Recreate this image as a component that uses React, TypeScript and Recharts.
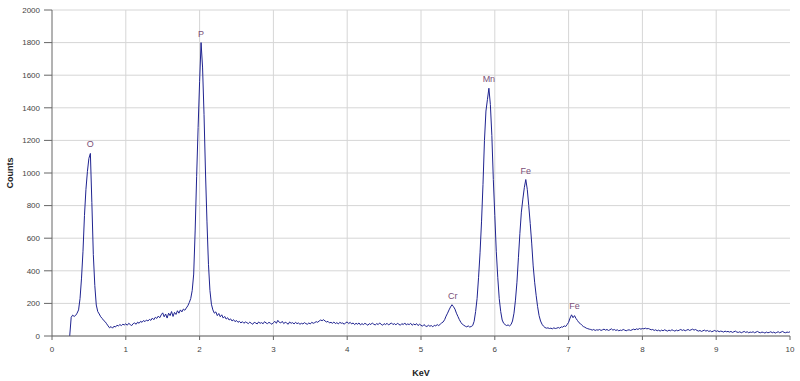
import { CartesianGrid, Line, LineChart, ReferenceDot, XAxis, YAxis } from "recharts";

const FONT = "'Liberation Sans', Arial, sans-serif";

// spectrum channels, 0.02 KeV apart, starting at 0.24 KeV
const START_KEV = 0.24;
const STEP_KEV = 0.02;

const counts = [
  0, 115, 128, 120, 126, 140, 160, 230, 355, 520,
  740, 900, 1010, 1090, 1120, 820, 500, 310, 190, 150,
  135, 118, 108, 95, 88, 75, 62, 50, 58, 48,
  60, 55, 66, 62, 70, 64, 72, 68, 75, 66,
  78, 70, 64, 76, 80, 72, 85, 78, 90, 84,
  95, 88, 98, 92, 102, 96, 110, 100, 115, 108,
  122, 112, 130, 142, 118, 135, 110, 140, 125, 150,
  120, 145, 132, 155, 140, 160, 148, 165, 158, 172,
  185, 205, 230, 280, 380, 650, 980, 1280, 1560, 1800,
  1650, 1360, 1000, 700, 440, 280, 195, 160, 140, 148,
  125, 138, 118, 130, 110, 120, 104, 112, 98, 105,
  92, 100, 88, 95, 84, 90, 80, 88, 78, 86,
  82, 76, 85, 78, 72, 84, 80, 74, 86, 78,
  82, 75, 88, 80, 76, 84, 78, 72, 82, 90,
  78, 96, 84, 80, 90, 76, 84, 80, 72, 86,
  78, 82, 74, 84, 76, 80, 72, 78, 74, 82,
  76, 72, 80, 74, 84, 78, 82, 88, 84, 92,
  98, 94, 100, 92, 86, 90, 80, 84, 78, 86,
  76, 82, 74, 84, 78, 80, 72, 82, 86, 76,
  84, 74, 80, 70, 78, 72, 80, 68, 76, 70,
  78, 72, 66, 76, 70, 80, 72, 68, 76, 70,
  80, 72, 66, 76, 70, 78, 68, 74, 80, 70,
  76, 68, 78, 72, 66, 76, 70, 80, 68, 74,
  70, 78, 66, 74, 68, 76, 64, 72, 66, 60,
  70, 62, 58, 66, 60, 64, 56, 66, 62, 70,
  64, 72, 80, 86, 100, 122, 140, 160, 178, 192,
  180, 165, 140, 120, 100, 84, 72, 66, 60, 56,
  62, 55, 58, 64, 90, 150, 230, 360, 510, 700,
  930, 1200, 1380, 1450, 1520, 1420, 1230, 960, 740, 520,
  360, 230, 150, 98, 78, 70, 64, 68, 62, 70,
  92, 140, 220, 330, 480, 630, 760, 840, 910, 960,
  900, 800, 690, 570, 430, 330, 250, 180, 125, 92,
  72, 60, 52, 48, 50, 46, 48, 44, 50, 46,
  48, 52, 48, 56, 54, 62, 58, 70, 84, 110,
  130, 112, 125, 108, 95, 82, 76, 66, 58, 54,
  48, 45, 42, 40, 36, 40, 34, 38, 36, 40,
  34, 38, 42, 36, 40, 34, 38, 44, 36, 40,
  34, 38, 32, 36, 34, 40, 36, 32, 36, 38,
  34, 38, 42, 38, 44, 40, 46, 42, 46, 44,
  48, 44, 46, 42, 38, 40, 34, 38, 32, 36,
  30, 36, 32, 38, 34, 30, 36, 32, 38, 34,
  30, 36, 32, 36, 40, 34, 38, 32, 36, 40,
  34, 38, 42, 36, 40, 34, 30, 34, 28, 32,
  36, 30, 34, 28, 32, 26, 30, 34, 28, 32,
  26, 30, 28, 24, 30, 26, 28, 24, 28, 22,
  26, 30, 24, 22, 26, 20, 24, 28, 22, 26,
  20, 24, 22, 26, 20, 24, 28, 22, 20, 24,
  22, 18, 24, 20, 22, 26, 20, 24, 18, 22,
  26, 20, 24, 28, 22, 20, 24, 22, 26,
];

const kevTicks = [0, 1, 2, 3, 4, 5, 6, 7, 8, 9, 10];
const kevGrid = [1, 2, 3, 4, 5, 6, 7, 8, 9];
const countTicks = [0, 200, 400, 600, 800, 1000, 1200, 1400, 1600, 1800, 2000];

const peakNames = ["O", "P", "Cr", "Mn", "Fe", "Fe"];
const peakKev = [0.52, 2.02, 5.43, 5.92, 6.42, 7.08];
const peakCounts = [1120, 1800, 192, 1520, 960, 130];

const data = counts.map((c, i) => ({
  kev: Number((START_KEV + i * STEP_KEV).toFixed(2)),
  counts: c,
}));

const tickStyle = { fontSize: 8, fill: "#444", fontFamily: FONT };

function XTitle(props: any) {
  const { x, y, width } = props.viewBox;
  return (
    <text x={x + width / 2} y={y + 40} textAnchor="middle" fontSize={9} fontWeight="bold" fontFamily={FONT} fill="#222">
      KeV
    </text>
  );
}

function YTitle(props: any) {
  const { x, y, height } = props.viewBox;
  const cx = x + 13;
  const cy = y + height / 2;
  return (
    <text x={cx} y={cy} transform={`rotate(-90 ${cx} ${cy})`} textAnchor="middle" fontSize={9} fontWeight="bold" fontFamily={FONT} fill="#222">
      Counts
    </text>
  );
}

export default function App() {
  return (
    <div style={{ position: "absolute", left: 0, top: 0, width: 800, height: 381, background: "#fff" }}>
      <LineChart width={800} height={381} data={data} margin={{ top: 10, right: 10, bottom: 0, left: 0 }}>
        <CartesianGrid stroke="#d6d6d6" verticalValues={kevGrid} />
        <XAxis
          dataKey="kev"
          type="number"
          domain={[0, 10]}
          ticks={kevTicks}
          height={45}
          tickSize={4}
          tickMargin={6}
          tick={tickStyle}
          stroke="#666"
          label={{ content: XTitle }}
        />
        <YAxis
          type="number"
          domain={[0, 2000]}
          ticks={countTicks}
          width={52}
          tickSize={8}
          tickMargin={4}
          tick={tickStyle}
          stroke="#666"
          label={{ content: YTitle }}
        />
        <Line
          dataKey="counts"
          type="linear"
          stroke="#1f2390"
          strokeWidth={1}
          dot={false}
          activeDot={false}
          isAnimationActive={false}
        />
        {peakNames.map((name, i) => (
          <ReferenceDot
            key={i}
            x={peakKev[i]}
            y={peakCounts[i]}
            r={0}
            fill="none"
            stroke="none"
            label={{ value: name, position: "top", offset: 6, fill: "#7a4f78", fontSize: 9, fontFamily: FONT }}
          />
        ))}
      </LineChart>
    </div>
  );
}
